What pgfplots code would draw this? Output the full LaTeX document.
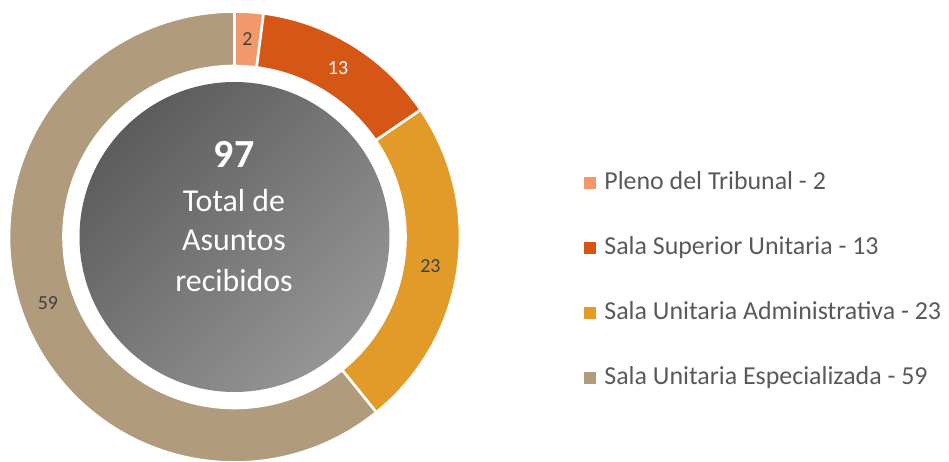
\documentclass[border=0pt]{standalone}
\usepackage{pgfplots}
\pgfplotsset{compat=1.18}
\usepackage{pgfplotstable}
\usepackage{fontspec}
\setmainfont{Carlito}
\definecolor{cA}{HTML}{F1996B}
\definecolor{cB}{HTML}{D65616}
\definecolor{cC}{HTML}{E29A28}
\definecolor{cD}{HTML}{B19B7D}
\definecolor{lbl}{HTML}{404040}
\definecolor{leg}{HTML}{595959}
\definecolor{gdark}{HTML}{5C5C5C}
\definecolor{glight}{HTML}{959595}
% values of the four groups
\pgfplotstableread{
valor
2
13
23
59
}\datos
\pgfplotstablegetelem{0}{valor}\of\datos \let\vA\pgfplotsretval
\pgfplotstablegetelem{1}{valor}\of\datos \let\vB\pgfplotsretval
\pgfplotstablegetelem{2}{valor}\of\datos \let\vC\pgfplotsretval
\pgfplotstablegetelem{3}{valor}\of\datos \let\vD\pgfplotsretval
\pgfmathsetmacro\tot{\vA+\vB+\vC+\vD}
\pgfmathsetmacro\aO{90}
\pgfmathsetmacro\aA{\aO-\vA/\tot*360}
\pgfmathsetmacro\aB{\aA-\vB/\tot*360}
\pgfmathsetmacro\aC{\aB-\vC/\tot*360}
\pgfmathsetmacro\aD{\aC-\vD/\tot*360}
\pgfmathsetmacro\mA{(\aO+\aA)/2}
\pgfmathsetmacro\mB{(\aA+\aB)/2}
\pgfmathsetmacro\mC{(\aB+\aC)/2}
\pgfmathsetmacro\mD{(\aC+\aD)/2}
\def\Ro{225.5bp}
\def\Ri{171bp}
\def\Rm{198bp}
\newcommand\slice[3]{%
  \filldraw[fill=#1, draw=white, line width=2.6bp, line join=miter]
    ([shift={(#2:\Ro)}]C) arc[start angle=#2, end angle=#3, radius=\Ro]
    -- ([shift={(#3:\Ri)}]C) arc[start angle=#3, end angle=#2, radius=\Ri] -- cycle;}
\begin{document}
\begin{tikzpicture}
\begin{axis}[
  x=1bp, y=1bp, xmin=0, xmax=949, ymin=0, ymax=462,
  scale only axis, hide axis, clip=false,
  anchor=origin, at={(0,0)},
  legend style={at={(axis cs:584,291)}, anchor=north west, draw=none, fill=none,
    inner sep=0pt, outer sep=0pt, row sep=42bp, column sep=9bp,
    font=\fontsize{26}{31}\selectfont\color{leg},
    nodes={inner sep=0pt, text height=18bp, text depth=5bp},
    cells={anchor=west}},
  legend cell align=left,
]
\coordinate (C) at (axis cs:234.5,225);
\addlegendimage{legend image code/.code={\fill[cA] (0bp,-5.5bp) rectangle (11bp,5.5bp);}}
\addlegendentry{Pleno del Tribunal - 2}
\addlegendimage{legend image code/.code={\fill[cB] (0bp,-5.5bp) rectangle (11bp,5.5bp);}}
\addlegendentry{Sala Superior Unitaria - 13}
\addlegendimage{legend image code/.code={\fill[cC] (0bp,-5.5bp) rectangle (11bp,5.5bp);}}
\addlegendentry{Sala Unitaria Administrativa - 23}
\addlegendimage{legend image code/.code={\fill[cD] (0bp,-5.5bp) rectangle (11bp,5.5bp);}}
\addlegendentry{Sala Unitaria Especializada - 59}
\slice{cA}{\aO}{\aA}
\slice{cB}{\aA}{\aB}
\slice{cC}{\aB}{\aC}
\slice{cD}{\aC}{\aD}
\shade[top color=gdark, bottom color=glight, shading angle=45] (C) circle[radius=155bp];
\path ([shift={(\mA:\Rm)}]C) node[text=lbl, font=\fontsize{20}{24}\selectfont] {\vA};
\path ([shift={(\mB:\Rm)}]C) node[text=white, font=\fontsize{20}{24}\selectfont] {\vB};
\path ([shift={(\mC:\Rm)}]C) node[text=lbl, font=\fontsize{20}{24}\selectfont] {\vC};
\path ([shift={(\mD:\Rm)}]C) node[text=lbl, font=\fontsize{20}{24}\selectfont] {\vD};
\node[anchor=base, text=white, font=\fontsize{40}{44}\selectfont\bfseries] at (axis cs:234,295) {97};
\node[anchor=base, text=white, font=\fontsize{32}{39}\selectfont, align=center] at (axis cs:234,251) {Total de};
\node[anchor=base, text=white, font=\fontsize{32}{39}\selectfont] at (axis cs:234,212) {Asuntos};
\node[anchor=base, text=white, font=\fontsize{32}{39}\selectfont] at (axis cs:234,171) {recibidos};
\end{axis}
\pgfresetboundingbox
\path (0,0) rectangle (949bp,462bp);
\end{tikzpicture}
\end{document}
